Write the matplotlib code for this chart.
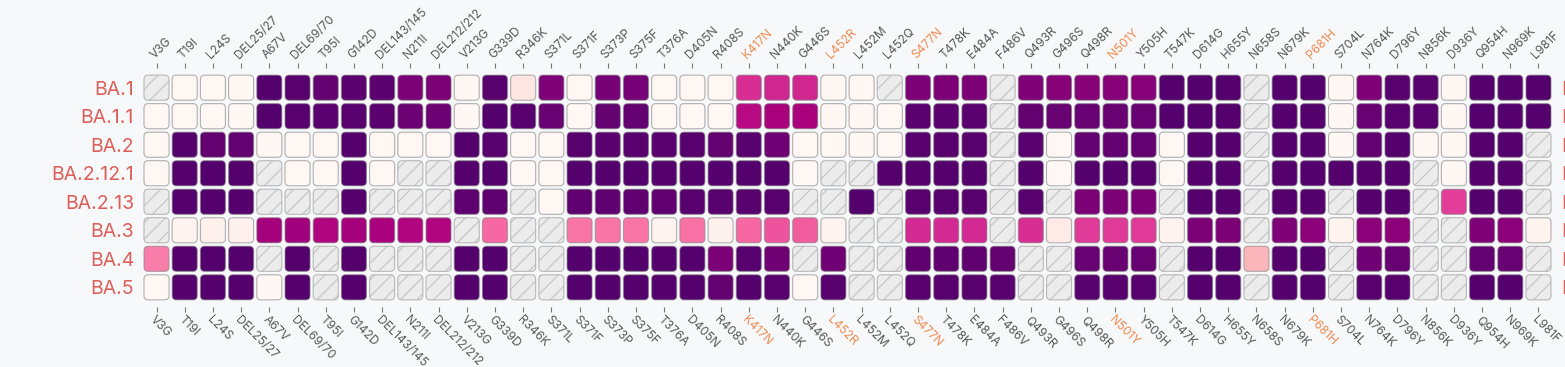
import numpy as np
import matplotlib
matplotlib.use("Agg")
import matplotlib.pyplot as plt
from matplotlib.patches import FancyBboxPatch

plt.rcParams["font.family"] = ["Inter", "DejaVu Sans"]
plt.rcParams["hatch.color"] = "#c9c9c9"
plt.rcParams["hatch.linewidth"] = 1.0

n = np.nan

mutations = ["V3G", "T19I", "L24S", "DEL25/27", "A67V", "DEL69/70", "T95I", "G142D",
             "DEL143/145", "N211I", "DEL212/212", "V213G", "G339D", "R346K", "S371L",
             "S371F", "S373P", "S375F", "T376A", "D405N", "R408S", "K417N", "N440K",
             "G446S", "L452R", "L452M", "L452Q", "S477N", "T478K", "E484A", "F486V",
             "Q493R", "G496S", "Q498R", "N501Y", "Y505H", "T547K", "D614G", "H655Y",
             "N658S", "N679K", "P681H", "S704L", "N764K", "D796Y", "N856K", "D936Y",
             "Q954H", "N969K", "L981F"]
highlighted = ["K417N", "L452R", "S477N", "N501Y", "P681H"]
lineages = ["BA.1", "BA.1.1", "BA.2", "BA.2.12.1", "BA.2.13", "BA.3", "BA.4", "BA.5"]

# mutation frequency per lineage (nan = no data)
ba1 = [n, 0, 0, 0, .97, .96, .93, .95, .95, .87, .87, 0, .96, .1, .86, 0, .88, .88, 0, 0,
       0, .64, .66, .66, 0, 0, n, .87, .87, .87, n, .86, .84, .84, .84, .84, .97, .97, .97, n,
       .97, .97, 0, .86, .96, .96, 0, .97, .97, .97]
ba1_1 = [0, 0, 0, 0, .97, .96, .95, .96, .95, .91, .91, 0, .97, .96, .92, 0, .93, .93, 0, 0,
         0, .73, .76, .76, 0, 0, 0, .95, .95, .95, n, .93, .92, .92, .92, .92, .97, .97, .97, n,
         .97, .97, 0, .92, .96, .96, 0, .97, .97, .97]
ba2 = [0, .97, .93, .93, 0, 0, 0, .97, 0, 0, 0, .97, .96, 0, 0, .96, .95, .96, .95, .96,
       .93, .96, .90, 0, 0, 0, 0, .96, .96, .96, n, .96, 0, .93, .93, .93, 0, .97, .97, n,
       .97, .97, 0, .93, .97, 0, 0, .97, .97, n]
ba2_12_1 = [0, .97, .97, .97, n, 0, 0, .97, 0, n, n, .97, .97, 0, 0, .97, .97, .97, .97, .97,
            .97, .97, .97, 0, n, n, .97, .97, .97, .97, n, .97, 0, .97, .97, .97, 0, .97, .97, n,
            .97, .97, .97, .97, .97, n, 0, .97, .97, n]
ba2_13 = [n, .97, .97, .97, n, n, n, .97, n, n, n, .94, .94, n, 0, .94, .94, .94, .94, .96,
          .96, .96, .96, n, n, .97, n, .96, .96, .96, n, .96, n, .87, .87, .87, n, .97, .97, n,
          .97, .97, n, .97, .97, n, .60, .97, .97, n]
ba3 = [n, .02, .04, .04, .77, .78, .74, .77, .76, .74, .74, n, .50, n, n, .47, .47, .47, .02, .48,
       .03, .50, .55, .53, .02, n, n, .65, .65, .65, n, .64, .07, .61, .61, .61, .02, .87, .87, n,
       .86, .83, .02, .83, .83, n, n, .86, .83, .02]
ba4 = [.45, .97, .97, .97, n, .97, n, .97, n, n, n, .97, .97, n, n, .97, .97, .97, .97, .97,
       .87, .96, .90, n, .90, n, n, .94, .94, .94, .93, n, n, .92, .92, .92, n, .97, .97, .30,
       .97, .97, n, .90, .92, n, n, .93, .92, n]
ba5 = [0, .97, .97, .97, 0, .97, n, .97, n, n, n, .97, .97, n, n, .97, .97, .97, .97, .97,
       .93, .97, .96, 0, .96, n, n, .96, .96, .96, .96, n, n, .96, .96, .96, n, .97, .97, n,
       .97, .97, n, .96, .96, n, n, .97, .97, n]

freq = np.array([ba1, ba1_1, ba2, ba2_12_1, ba2_13, ba3, ba4, ba5])

cmap = plt.get_cmap("RdPu")
bg = "#f7f8fa"
grey_txt = "#575757"
orange = "#ee8a4e"
red = "#dc5f5a"

fig = plt.figure(figsize=(15.65, 3.67), dpi=100, facecolor=bg)
ax = fig.add_axes([142.4 / 1565, 60 / 367, 1410.2 / 1565, 239 / 367])
ax.set_facecolor(bg)
ax.set_xlim(-0.5, len(mutations) - 0.5)
ax.set_ylim(len(lineages) - 1 + 0.69, -0.69)

w, h = 0.887, 0.88
box = "round,pad=0,rounding_size=0.15"
for i, row in enumerate(freq):
    for j, v in enumerate(row):
        xy = (j - w / 2, i - h / 2)
        if np.isnan(v):
            ax.add_patch(FancyBboxPatch(xy, w, h, boxstyle=box, facecolor="#ececec",
                                        edgecolor="#c9c9c9", linewidth=0, hatch="//"))
            ax.add_patch(FancyBboxPatch(xy, w, h, boxstyle=box, facecolor="none",
                                        edgecolor="#b8b8b8", linewidth=0.8))
        else:
            ax.add_patch(FancyBboxPatch(xy, w, h, boxstyle=box, facecolor=cmap(v),
                                        edgecolor=(0.5, 0.5, 0.5, 0.6), linewidth=0.8))

ax.set_xticks(range(len(mutations)))
ax.set_xticklabels(mutations)
ax.tick_params(axis="x", top=True, bottom=True, labeltop=True, labelbottom=True,
               length=3.6, width=0.8, color="#777777", pad=1.5, labelsize=8.6)
for tick, name in zip(ax.xaxis.get_major_ticks(), mutations):
    c = orange if name in highlighted else grey_txt
    tick.label2.set(rotation=45, ha="left", va="bottom", rotation_mode="anchor", color=c)
    tick.label1.set(rotation=-45, ha="left", va="top", rotation_mode="anchor", color=c)

ax.set_yticks(range(len(lineages)))
ax.set_yticklabels(lineages)
ax.tick_params(axis="y", left=False, right=False, labelleft=True, labelright=True,
               length=0, pad=6, labelsize=14, labelcolor=red)

for s in ax.spines.values():
    s.set_visible(False)

fig.savefig("out.png", dpi=100, facecolor=bg)
